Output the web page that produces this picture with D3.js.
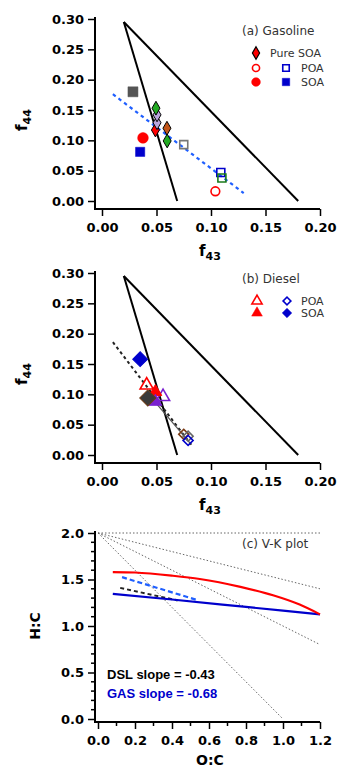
<!DOCTYPE html>
<html>
<head>
<meta charset="utf-8">
<script src="https://cdn.jsdelivr.net/npm/d3@7"></script>
<style>
  body { margin: 0; background: #fff; }
  svg { display: block; }
  .tick text { font-family: "DejaVu Sans", sans-serif; font-weight: bold; font-size: 13px; fill: #000; }
  .tick line { stroke: #000; stroke-width: 1.5; }
</style>
</head>
<body>
<svg id="chart" width="339" height="768"></svg>
<script>

// ---- data ----

var f43Ticks = [0, 0.05, 0.10, 0.15, 0.20];
var f44Ticks = [0, 0.05, 0.10, 0.15, 0.20, 0.25, 0.30];

// triangle of Ng et al. (f43, f44)
var triLeft = [[0.02, 0.295], [0.069, 0.0]];
var triRight = [[0.02, 0.295], [0.18, 0.0]];

// (a) gasoline
var gasPureF43 = [0.049, 0.0505, 0.0505, 0.0495, 0.0596, 0.0598];
var gasPureF44 = [0.117, 0.129, 0.142, 0.153, 0.120, 0.099];
var gasPoaF43 = [0.075, 0.109, 0.110, 0.104];
var gasPoaF44 = [0.093, 0.047, 0.038, 0.016];
var gasSoaF43 = [0.0284, 0.0376, 0.035];
var gasSoaF44 = [0.180, 0.104, 0.081];
var gasFit = [[0.010, 0.176], [0.130, 0.013]];

// (b) diesel
var dslPoaF43 = [0.041, 0.056, 0.075, 0.079, 0.079];
var dslPoaF44 = [0.115, 0.096, 0.034, 0.031, 0.024];
var dslSoaF43 = [0.035, 0.049, 0.049, 0.042];
var dslSoaF44 = [0.158, 0.104, 0.088, 0.094];
var dslFit = [[0.010, 0.186], [0.0835, 0.013]];
var dslLink = [[0.045, 0.095], [0.082, 0.017]];

// (c) Van Krevelen
var ocTicks = [0, 0.2, 0.4, 0.6, 0.8, 1.0, 1.2];
var hcTicks = [0, 0.5, 1.0, 1.5, 2.0];
var vkSlopes = [0, -0.5, -1, -2];
var vkEnds = [1.2, 1.2, 1.2, 1.0];
var redCurveOC = [0.08, 0.2, 0.405, 0.55, 0.77, 0.946, 1.09, 1.2];
var redCurveHC = [1.58, 1.575, 1.54, 1.505, 1.42, 1.33, 1.23, 1.125];
var blueLineOC = [0.08, 0.4, 0.8, 1.2];
var blueLineHC = [1.345, 1.285, 1.205, 1.125];
var gasDashOC = [0.13, 0.535];
var gasDashHC = [1.525, 1.28];
var dslDashOC = [0.12, 0.43];
var dslDashHC = [1.41, 1.275];

// ---- styles ----

var gasPureColors = ["#ff0000", "#b9a5dc", "#b9a5dc", "#22aa22", "#c4561a", "#22aa22"];
var gasPoaStyle = [
  { shape: "square", color: "#777777" },
  { shape: "square", color: "#0000cc" },
  { shape: "square", color: "#1a7a1a" },
  { shape: "circle", color: "#ff0000" }
];
var gasSoaStyle = [
  { shape: "square", color: "#555555", size: 100 },
  { shape: "circle", color: "#ff0000", size: 90 },
  { shape: "square", color: "#0000cc", size: 85 }
];
var dslPoaStyle = [
  { shape: "triangle", color: "#ff0000" },
  { shape: "triangle", color: "#7a20d0" },
  { shape: "rdiamond", color: "#7a3a14" },
  { shape: "rdiamond", color: "#666666" },
  { shape: "rdiamond", color: "#0000cc" }
];
var dslSoaStyle = [
  { shape: "rdiamond", color: "#0000cc", size: 110, stroke: "#0000cc" },
  { shape: "triangle", color: "#ff0000", size: 70, stroke: "#ff0000" },
  { shape: "triangle", color: "#7a20d0", size: 70, stroke: "#7a20d0" },
  { shape: "rdiamond", color: "#3a3a3a", size: 130, stroke: "#6b3a14" }
];

var svg = d3.select("#chart");

function symbolPath(shape, size) {
  var type = { square: d3.symbolSquare, circle: d3.symbolCircle,
    triangle: d3.symbolTriangle, diamond: d3.symbolDiamond, rdiamond: d3.symbolSquare }[shape];
  return d3.symbol().type(type).size(size)();
}

function drawMarker(g, x, y, shape, size, fill, stroke, sw) {
  var p = g.append("path")
    .attr("d", symbolPath(shape, size))
    .attr("fill", fill)
    .attr("stroke", stroke)
    .attr("stroke-width", sw);
  var tr = "translate(" + x + "," + y + ")";
  if (shape == "rdiamond") tr += " rotate(45)";
  p.attr("transform", tr);
  return p;
}

function drawAxes(g, x, y, xTicks, yTicks, fmtX, fmtY, axisX, axisY, minorX, minorY) {
  var ax = g.append("g").attr("transform", "translate(0," + axisY + ")")
    .call(d3.axisBottom(x).tickValues(xTicks).tickFormat(fmtX).tickSize(7).tickPadding(7));
  var ay = g.append("g").attr("transform", "translate(" + axisX + ",0)")
    .call(d3.axisLeft(y).tickValues(yTicks).tickFormat(fmtY).tickSize(7).tickPadding(4));
  ax.select(".domain").remove();
  ay.select(".domain").remove();
  if (minorX) {
    g.selectAll(null).data(minorX).enter().append("line")
      .attr("x1", function(d) { return x(d); }).attr("x2", function(d) { return x(d); })
      .attr("y1", axisY).attr("y2", axisY + 4)
      .attr("stroke", "#000").attr("stroke-width", 1.5);
  }
  if (minorY) {
    g.selectAll(null).data(minorY).enter().append("line")
      .attr("y1", function(d) { return y(d); }).attr("y2", function(d) { return y(d); })
      .attr("x1", axisX).attr("x2", axisX - 4)
      .attr("stroke", "#000").attr("stroke-width", 1.5);
  }
  g.append("path")
    .attr("d", "M" + axisX + "," + (y.range()[1] - 2) + "V" + axisY + "H" + x.range()[1])
    .attr("fill", "none").attr("stroke", "#000").attr("stroke-width", 2);
}

function axisTitle(g, x, y, main, sub, rotate) {
  var t = g.append("text")
    .attr("font-family", "DejaVu Sans, sans-serif")
    .attr("font-weight", "bold")
    .attr("font-size", 15)
    .attr("text-anchor", "middle");
  if (rotate) t.attr("transform", "translate(" + x + "," + y + ") rotate(-90)");
  else t.attr("x", x).attr("y", y);
  t.append("tspan").text(main);
  if (sub) t.append("tspan").attr("font-size", 11).attr("dy", 4).text(sub);
}

function label(g, x, y, txt, size, color, weight, family) {
  return g.append("text").attr("x", x).attr("y", y)
    .attr("font-family", family || "DejaVu Sans, sans-serif")
    .attr("font-size", size)
    .attr("font-weight", weight || "normal")
    .attr("fill", color || "#333")
    .text(txt);
}

var line = d3.line();

function trianglePanel(top) {
  var g = svg.append("g").attr("transform", "translate(0," + top + ")");
  var x = d3.scaleLinear().domain([0, 0.2]).range([102, 320]);
  var y = d3.scaleLinear().domain([0, 0.3]).range([201, 19]);
  var fmt = d3.format(".2f");
  drawAxes(g, x, y, f43Ticks, f44Ticks, fmt, fmt, 95, 209);
  [triLeft, triRight].forEach(function(seg) {
    g.append("path")
      .attr("d", line(seg.map(function(p) { return [x(p[0]), y(p[1])]; })))
      .attr("stroke", "#000").attr("stroke-width", 2).attr("fill", "none");
  });
  axisTitle(g, 210, 256, "f", "43", false);
  axisTitle(g, 27, 120, "f", "44", true);
  return { g: g, x: x, y: y };
}

// ---- (a) gasoline ----
var pa = trianglePanel(0);

pa.g.append("path")
  .attr("d", line(gasFit.map(function(p) { return [pa.x(p[0]), pa.y(p[1])]; })))
  .attr("stroke", "#1f5fff").attr("stroke-width", 2.2)
  .attr("stroke-dasharray", "3.5,3.5").attr("fill", "none");

gasSoaF43.forEach(function(v, i) {
  var s = gasSoaStyle[i];
  drawMarker(pa.g, pa.x(v), pa.y(gasSoaF44[i]), s.shape, s.size, s.color, s.color, 0.5);
});
gasPureF43.forEach(function(v, i) {
  drawMarker(pa.g, pa.x(v), pa.y(gasPureF44[i]), "diamond", 55, gasPureColors[i], "#000", 1);
});
gasPoaF43.forEach(function(v, i) {
  var s = gasPoaStyle[i];
  drawMarker(pa.g, pa.x(v), pa.y(gasPoaF44[i]), s.shape, s.shape == "circle" ? 60 : 64, "#fff", s.color, 1.6)
    .attr("fill", "none");
});

label(pa.g, 242, 35, "(a) Gasoline", 12);
drawMarker(pa.g, 256, 53, "diamond", 45, "#ff0000", "#000", 1.2);
label(pa.g, 270, 57, "Pure SOA", 11);
drawMarker(pa.g, 256, 68, "circle", 40, "none", "#ff0000", 1.6);
drawMarker(pa.g, 286, 68, "square", 42, "none", "#0000cc", 1.6);
label(pa.g, 301, 72, "POA", 11);
drawMarker(pa.g, 256, 82, "circle", 60, "#ff0000", "#ff0000", 0.5);
drawMarker(pa.g, 286, 82, "square", 55, "#0000cc", "#0000cc", 0.5);
label(pa.g, 301, 86, "SOA", 11);

// ---- (b) diesel ----
var pb = trianglePanel(254);

pb.g.append("path")
  .attr("d", line(dslFit.map(function(p) { return [pb.x(p[0]), pb.y(p[1])]; })))
  .attr("stroke", "#222").attr("stroke-width", 2)
  .attr("stroke-dasharray", "3,3").attr("fill", "none");
pb.g.append("path")
  .attr("d", line(dslLink.map(function(p) { return [pb.x(p[0]), pb.y(p[1])]; })))
  .attr("stroke", "#555").attr("stroke-width", 1.2).attr("fill", "none");

dslPoaF43.forEach(function(v, i) {
  var s = dslPoaStyle[i];
  drawMarker(pb.g, pb.x(v), pb.y(dslPoaF44[i]), s.shape, s.shape == "triangle" ? 75 : 50, "none", s.color, 1.6);
});
dslSoaF43.forEach(function(v, i) {
  var s = dslSoaStyle[i];
  drawMarker(pb.g, pb.x(v), pb.y(dslSoaF44[i]), s.shape, s.size, s.color, s.stroke, 1);
});

label(pb.g, 242, 29, "(b) Diesel", 12);
drawMarker(pb.g, 257, 47, "triangle", 45, "none", "#ff0000", 1.6);
drawMarker(pb.g, 287, 47, "rdiamond", 30, "none", "#0000cc", 1.6);
label(pb.g, 301, 51, "POA", 11);
drawMarker(pb.g, 257, 59, "triangle", 50, "#ff0000", "#ff0000", 0.5);
drawMarker(pb.g, 287, 59, "rdiamond", 45, "#0000cc", "#0000cc", 0.5);
label(pb.g, 301, 63, "SOA", 11);

// ---- (c) V-K plot ----
var gc = svg.append("g");
var xc = d3.scaleLinear().domain([0, 1.2]).range([98, 320]);
var yc = d3.scaleLinear().domain([0, 2]).range([719, 533]);

vkSlopes.forEach(function(m, i) {
  var e = vkEnds[i];
  gc.append("line")
    .attr("x1", xc(0)).attr("y1", yc(2))
    .attr("x2", xc(e)).attr("y2", yc(2 + m * e))
    .attr("stroke", "#666").attr("stroke-width", 1)
    .attr("stroke-dasharray", "1.5,2");
});

drawAxes(gc, xc, yc, ocTicks, hcTicks, d3.format(".1f"), d3.format(".1f"), 95, 722,
  d3.range(0.1, 1.2, 0.2), d3.range(0.1, 2.0, 0.1).filter(function(d) { return Math.abs(d * 2 - Math.round(d * 2)) > 0.01; }));

var xyLine = d3.line().curve(d3.curveMonotoneX);
function vkPath(ocs, hcs) {
  return xyLine(ocs.map(function(v, i) { return [xc(v), yc(hcs[i])]; }));
}
gc.append("path").attr("d", vkPath(gasDashOC, gasDashHC))
  .attr("stroke", "#1f5fff").attr("stroke-width", 2.2).attr("stroke-dasharray", "5,3").attr("fill", "none");
gc.append("path").attr("d", vkPath(dslDashOC, dslDashHC))
  .attr("stroke", "#222").attr("stroke-width", 2).attr("stroke-dasharray", "4,3").attr("fill", "none");
gc.append("path").attr("d", vkPath(blueLineOC, blueLineHC))
  .attr("stroke", "#0000cc").attr("stroke-width", 2.2).attr("fill", "none");
gc.append("path").attr("d", vkPath(redCurveOC, redCurveHC))
  .attr("stroke", "#ff0000").attr("stroke-width", 2.2).attr("fill", "none");

label(gc, 242, 548, "(c) V-K plot", 12);
label(gc, 107, 679, "DSL slope = -0.43", 13, "#000", "bold", "Liberation Sans, Arial, sans-serif");
label(gc, 107, 698, "GAS slope = -0.68", 13, "#0000cc", "bold", "Liberation Sans, Arial, sans-serif");

gc.append("text").attr("x", 210).attr("y", 765)
  .attr("font-family", "DejaVu Sans, sans-serif").attr("font-weight", "bold")
  .attr("font-size", 14).attr("text-anchor", "middle").text("O:C");
gc.append("text").attr("transform", "translate(40,626) rotate(-90)")
  .attr("font-family", "DejaVu Sans, sans-serif").attr("font-weight", "bold")
  .attr("font-size", 14).attr("text-anchor", "middle").text("H:C");

</script>
</body>
</html>
